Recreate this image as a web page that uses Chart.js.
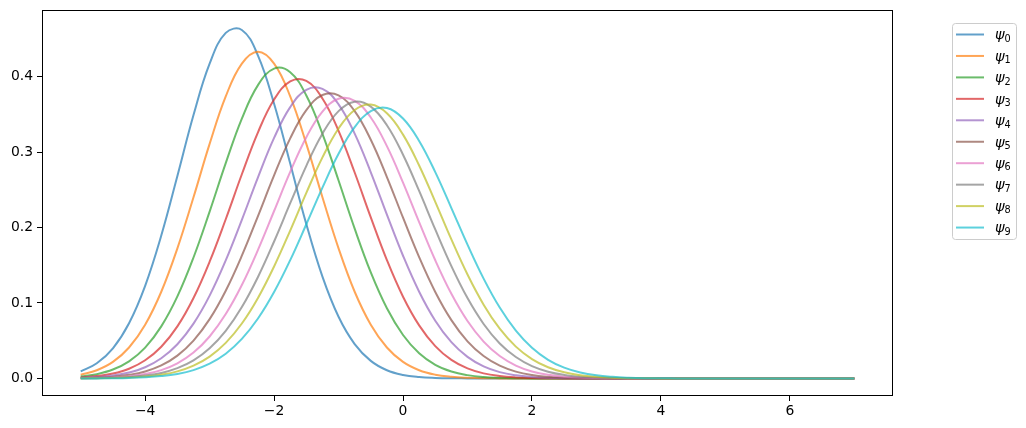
<!DOCTYPE html>
<html><head><meta charset="utf-8">
<script src="https://cdn.jsdelivr.net/npm/chart.js@4/dist/chart.umd.min.js"></script>
<style>html,body{margin:0;padding:0;background:#fff}canvas{display:block}</style>
</head><body>
<canvas id="c" width="1026" height="428" style="width:1026px;height:428px"></canvas>
<script>
const xs=[-5,-4.75,-4.5,-4.25,-4,-3.75,-3.5,-3.25,-3,-2.75,-2.5,-2.25,-2,-1.75,-1.5,-1.25,-1,-0.75,-0.5,-0.25,0,0.25,0.5,0.75,1,1.25,1.5,1.75,2,2.25,2.5,2.75,3,3.25,3.5,3.75,4,4.25,4.5,4.75,5,5.25,5.5,5.75,6,6.25,6.5,6.75,7];
const psi0=[0.0093,0.0201,0.0400,0.0732,0.1228,0.1894,0.2682,0.3490,0.4171,0.4579,0.4618,0.4279,0.3641,0.2847,0.2045,0.1349,0.0817,0.0455,0.0233,0.0109,0.0047,0.0019,0.0007,0.0002,0.0001,
 0,0,0,0,0,0,0,0,0,0,0,0,0,0,0,0,0,0,0,0,0,0,0,0];
const psi1=[0.0050,0.0109,0.0219,0.0410,0.0712,0.1149,0.1724,0.2401,0.3108,0.3737,0.4173,0.4330,0.4173,0.3737,0.3108,0.2401,0.1724,0.1149,0.0712,0.0410,0.0219,0.0109,0.0050,0.0022,0.0009,0.0003,0.0001,
 0,0,0,0,0,0,0,0,0,0,0,0,0,0,0,0,0,0,0,0,0,0];
const psi2=[0.0026,0.0057,0.0118,0.0227,0.0409,0.0690,0.1087,0.1603,0.2211,0.2853,0.3443,0.3887,0.4106,0.4057,0.3750,0.3242,0.2623,0.1985,0.1405,0.0930,0.0576,0.0334,0.0181,0.0092,0.0044,0.0019,0.0008,0.0003,0.0001,
 0,0,0,0,0,0,0,0,0,0,0,0,0,0,0,0,0,0,0,0];
const psi3=[0.0014,0.0031,0.0065,0.0129,0.0241,0.0420,0.0690,0.1066,0.1547,0.2110,0.2706,0.3262,0.3696,0.3937,0.3942,0.3710,0.3282,0.2729,0.2134,0.1568,0.1083,0.0703,0.0429,0.0246,0.0133,0.0067,0.0032,0.0014,0.0006,0.0002,0.0001,
 0,0,0,0,0,0,0,0,0,0,0,0,0,0,0,0,0,0];
const psi4=[0.0008,0.0018,0.0038,0.0078,0.0148,0.0267,0.0453,0.0726,0.1097,0.1564,0.2102,0.2665,0.3187,0.3595,0.3825,0.3838,0.3633,0.3244,0.2732,0.2170,0.1626,0.1149,0.0765,0.0481,0.0286,0.0160,0.0084,0.0042,0.0020,0.0009,0.0004,0.0001,0.0001,
 0,0,0,0,0,0,0,0,0,0,0,0,0,0,0,0];
const psi5=[0.0005,0.0011,0.0023,0.0048,0.0093,0.0173,0.0303,0.0502,0.0786,0.1163,0.1627,0.2152,0.2691,0.3181,0.3555,0.3756,0.3751,0.3543,0.3163,0.2669,0.2130,0.1607,0.1146,0.0773,0.0492,0.0297,0.0169,0.0091,0.0046,0.0022,0.0010,0.0004,0.0002,0.0001,
 0,0,0,0,0,0,0,0,0,0,0,0,0,0,0];
const psi6=[0.0003,0.0006,0.0014,0.0029,0.0058,0.0111,0.0201,0.0343,0.0556,0.0853,0.1238,0.1703,0.2219,0.2737,0.3197,0.3537,0.3707,0.3679,0.3458,0.3078,0.2595,0.2071,0.1566,0.1122,0.0761,0.0488,0.0297,0.0171,0.0093,0.0048,0.0024,0.0011,0.0005,0.0002,0.0001,
 0,0,0,0,0,0,0,0,0,0,0,0,0,0];
const psi7=[0.0002,0.0004,0.0008,0.0018,0.0038,0.0073,0.0136,0.0239,0.0399,0.0630,0.0946,0.1345,0.1815,0.2322,0.2818,0.3244,0.3542,0.3667,0.3602,0.3356,0.2965,0.2485,0.1975,0.1489,0.1065,0.0722,0.0464,0.0284,0.0164,0.0090,0.0047,0.0023,0.0011,0.0005,0.0002,0.0001,
 0,0,0,0,0,0,0,0,0,0,0,0,0];
const psi8=[0.0001,0.0002,0.0005,0.0012,0.0025,0.0050,0.0094,0.0170,0.0290,0.0472,0.0728,0.1067,0.1484,0.1960,0.2459,0.2929,0.3313,0.3558,0.3629,0.3514,0.3231,0.2822,0.2340,0.1842,0.1377,0.0978,0.0659,0.0422,0.0257,0.0148,0.0081,0.0042,0.0021,0.0010,0.0004,0.0002,0.0001,
 0,0,0,0,0,0,0,0,0,0,0,0];
const psi9=[0.0001,0.0001,0.0003,0.0007,0.0015,0.0031,0.0060,0.0111,0.0196,0.0328,0.0524,0.0794,0.1145,0.1568,0.2043,0.2529,0.2977,0.3331,0.3543,0.3583,0.3444,0.3147,0.2734,0.2258,0.1773,0.1323,0.0939,0.0633,0.0406,0.0247,0.0143,0.0079,0.0041,0.0021,0.0010,0.0004,0.0002,0.0001,
 0,0,0,0,0,0,0,0,0,0,0];
const seriesNames=['0','1','2','3','4','5','6','7','8','9'];
const series=[psi0,psi1,psi2,psi3,psi4,psi5,psi6,psi7,psi8,psi9];
const colors=['31,119,180','255,127,14','44,160,44','214,39,40','148,103,189','140,86,75','227,119,194','127,127,127','188,189,34','23,190,207'];
const xTicks=[-4,-2,0,2,4,6];
const yTicks=[0,0.1,0.2,0.3,0.4];

const FONT='DejaVu Sans';
const datasets=series.map((s,i)=>({
  label:'ψ'+seriesNames[i],
  sub:seriesNames[i],
  data:xs.map((x,j)=>({x:x,y:s[j]})),
  borderColor:'rgba('+colors[i]+',0.7)',
  backgroundColor:'rgba('+colors[i]+',0.7)',
  borderWidth:2,
  pointRadius:0,
  fill:false,
  tension:0.4,
  order:series.length-1-i
}));

const frame={id:'frame',afterDraw(chart){
  const ctx=chart.ctx,a=chart.chartArea;
  ctx.save();
  ctx.strokeStyle='#000';ctx.lineWidth=1;
  ctx.strokeRect(Math.round(a.left)+0.5,Math.round(a.top)+0.5,Math.round(a.right-a.left)-1,Math.round(a.bottom-a.top)-1);
  const bx=952.5,by=23.5,bw=64,bh=216,r=3;
  ctx.beginPath();
  ctx.moveTo(bx+r,by);ctx.lineTo(bx+bw-r,by);ctx.quadraticCurveTo(bx+bw,by,bx+bw,by+r);
  ctx.lineTo(bx+bw,by+bh-r);ctx.quadraticCurveTo(bx+bw,by+bh,bx+bw-r,by+bh);
  ctx.lineTo(bx+r,by+bh);ctx.quadraticCurveTo(bx,by+bh,bx,by+bh-r);
  ctx.lineTo(bx,by+r);ctx.quadraticCurveTo(bx,by,bx+r,by);ctx.closePath();
  ctx.fillStyle='rgba(255,255,255,0.8)';ctx.fill();
  ctx.strokeStyle='#cccccc';ctx.lineWidth=1;ctx.stroke();
  chart.data.datasets.forEach((d,i)=>{
    const y=34.5+21.45*i;
    ctx.beginPath();ctx.moveTo(956,y);ctx.lineTo(984,y);
    ctx.strokeStyle=d.borderColor;ctx.lineWidth=2;ctx.stroke();
    ctx.fillStyle='#000';ctx.textBaseline='alphabetic';ctx.textAlign='left';
    ctx.font='oblique 14.5px '+FONT;
    ctx.fillText('ψ',995,y+4.8);
    ctx.font='9.7px '+FONT;
    ctx.fillText(d.sub,1004.5,y+7.2);
  });
  ctx.restore();
}};

const fmtX=v=>(v<0?'\u2212':'')+Math.abs(v);
const zeroPad=s=>{s.paddingTop=0;s.paddingBottom=0;s.paddingLeft=0;s.paddingRight=0;};
new Chart(document.getElementById('c'),{
  type:'line',
  data:{datasets:datasets},
  options:{
    responsive:false,animation:false,devicePixelRatio:1,
    layout:{padding:{left:0,right:133,top:10,bottom:0}},
    plugins:{legend:{display:false},tooltip:{enabled:false}},
    scales:{
      x:{type:'linear',min:-5.6,max:7.6,
        afterBuildTicks:s=>{s.ticks=xTicks.map(v=>({value:v}));},
        afterFit:s=>{s.height=32;zeroPad(s);},
        ticks:{callback:v=>fmtX(v),font:{family:FONT,size:13.9},color:'#000',padding:2,maxRotation:0,autoSkip:false},
        grid:{display:true,drawOnChartArea:false,drawTicks:true,tickLength:5,color:'#000'},
        border:{display:false}},
      y:{type:'linear',min:-0.02325,max:0.48825,
        afterBuildTicks:s=>{s.ticks=yTicks.map(v=>({value:v}));},
        afterFit:s=>{s.width=42;zeroPad(s);},
        ticks:{callback:v=>v.toFixed(1),font:{family:FONT,size:13.9},color:'#000',padding:4,autoSkip:false},
        grid:{display:true,drawOnChartArea:false,drawTicks:true,tickLength:5,color:'#000'},
        border:{display:false}}
    }
  },
  plugins:[frame]
});
</script>
</body></html>
